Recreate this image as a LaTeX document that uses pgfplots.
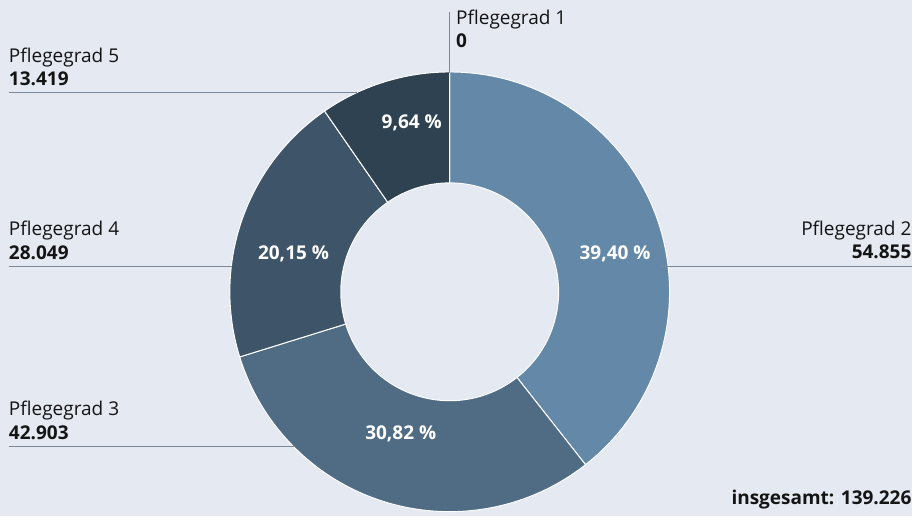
\documentclass[border=0pt]{standalone}
\usepackage{pgfplots}
\pgfplotsset{compat=1.18}
\usepackage{pgfplotstable}
\usepackage{fontspec}
\setmainfont{Open Sans}
\definecolor{bg}{HTML}{E4E9F2}
\definecolor{cB}{HTML}{6488A8}
\definecolor{cC}{HTML}{506C85}
\definecolor{cD}{HTML}{3E5468}
\definecolor{cE}{HTML}{2E4252}
\definecolor{lead}{HTML}{7D8B99}
\definecolor{txt}{HTML}{141414}
\pgfplotstableread{
grad value
1 0
2 54855
3 42903
4 28049
5 13419
}\pgdata
\tikzset{lbl/.style={font=\fontsize{19}{22}\selectfont, inner sep=0pt, outer sep=0pt, text=txt}}
\newcommand\sector[3]{%
  \fill[#1, draw=white, line width=1pt] (axis cs:450,224) ++(#2:220pt)
    arc[start angle=#2, end angle=#3, radius=220pt]
    -- ([shift={(#3:109pt)}]axis cs:450,224)
    arc[start angle=#3, end angle=#2, radius=109pt] -- cycle;}
\begin{document}
\begin{tikzpicture}
\pgfplotstablegetelem{0}{value}\of\pgdata \edef\vA{\pgfplotsretval}
\pgfplotstablegetelem{1}{value}\of\pgdata \edef\vB{\pgfplotsretval}
\pgfplotstablegetelem{2}{value}\of\pgdata \edef\vC{\pgfplotsretval}
\pgfplotstablegetelem{3}{value}\of\pgdata \edef\vD{\pgfplotsretval}
\pgfplotstablegetelem{4}{value}\of\pgdata \edef\vE{\pgfplotsretval}
\edef\tot{\fpeval{\vA+\vB+\vC+\vD+\vE}}
\edef\aA{\fpeval{90-360*\vA/\tot}}
\edef\aB{\fpeval{\aA-360*\vB/\tot}}
\edef\aC{\fpeval{\aB-360*\vC/\tot}}
\edef\aD{\fpeval{\aC-360*\vD/\tot}}
\edef\aE{\fpeval{\aD-360*\vE/\tot}}
\begin{axis}[x=1pt, y=1pt, xmin=0, xmax=913, ymin=0, ymax=516,
  hide axis, scale only axis, clip=false]
\fill[bg] (axis cs:0,0) rectangle (axis cs:913,516);
\sector{cB}{\aA}{\aB}
\sector{cC}{\aB}{\aC}
\sector{cD}{\aC}{\aD}
\sector{cE}{\aD}{\aE}
% leader lines
\draw[lead, line width=1.2pt] (axis cs:450,504) -- (axis cs:450,443);
\draw[lead, line width=1.2pt] (axis cs:661,249.3) -- (axis cs:913,249.3);
\draw[lead, line width=1.2pt] (axis cs:9,69.3) -- (axis cs:294,69.3);
\draw[lead, line width=1.2pt] (axis cs:9,249.3) -- (axis cs:232,249.3);
\draw[lead, line width=1.2pt] (axis cs:9,423.3) -- (axis cs:357,423.3);
% labels
\node[lbl, anchor=base west] at (axis cs:456.5,491) {Pflegegrad 1};
\node[lbl, anchor=base west] at (axis cs:456.5,468.3) {\bfseries 0};
\node[lbl, anchor=base east] at (axis cs:912,280) {Pflegegrad 2};
\node[lbl, anchor=base east] at (axis cs:912,257.7) {\bfseries 54.855};
\node[lbl, anchor=base west] at (axis cs:9,100) {Pflegegrad 3};
\node[lbl, anchor=base west] at (axis cs:9,76.7) {\bfseries 42.903};
\node[lbl, anchor=base west] at (axis cs:9,280) {Pflegegrad 4};
\node[lbl, anchor=base west] at (axis cs:9,256.7) {\bfseries 28.049};
\node[lbl, anchor=base west] at (axis cs:9,453.7) {Pflegegrad 5};
\node[lbl, anchor=base west] at (axis cs:9,430.3) {\bfseries 13.419};
\node[lbl, anchor=base east] at (axis cs:912,11) {\bfseries insgesamt: 139.226};
% percentages
\node[lbl, anchor=base, text=white] at (axis cs:615.5,256) {\bfseries 39,40 \%};
\node[lbl, anchor=base, text=white] at (axis cs:401,76) {\bfseries 30,82 \%};
\node[lbl, anchor=base, text=white] at (axis cs:293.7,256.7) {\bfseries 20,15 \%};
\node[lbl, anchor=base, text=white] at (axis cs:412,387) {\bfseries 9,64 \%};
\end{axis}
\end{tikzpicture}
\end{document}
